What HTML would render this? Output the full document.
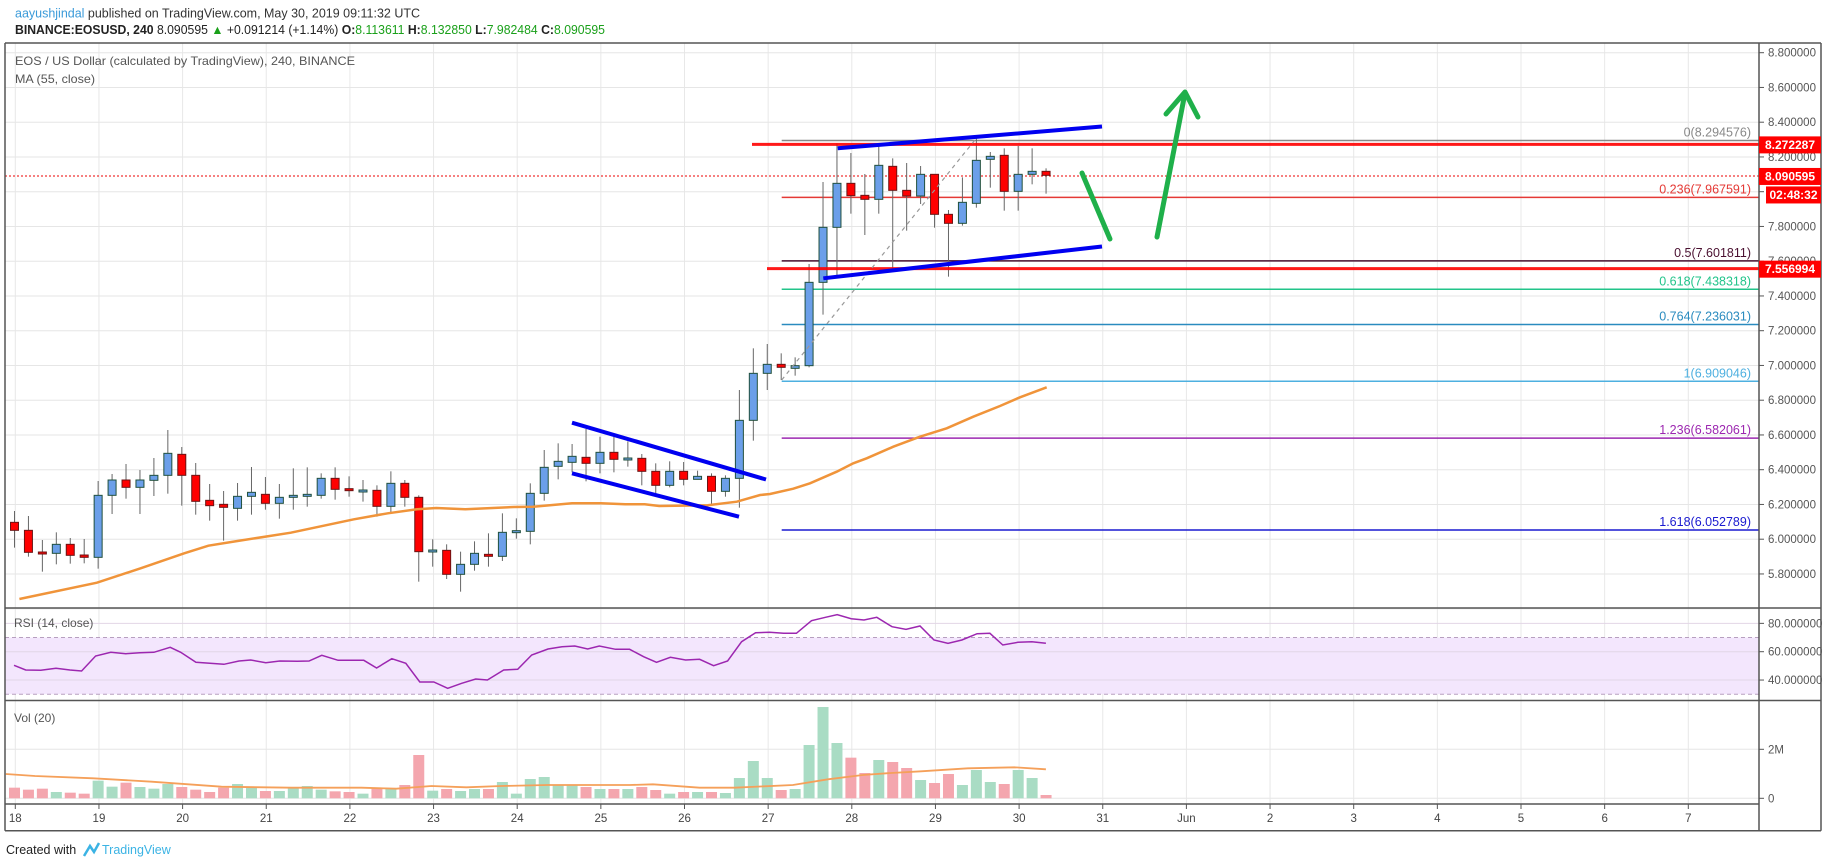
<!DOCTYPE html>
<html><head><meta charset="utf-8">
<style>
html,body{margin:0;padding:0;background:#fff;width:1828px;height:868px;overflow:hidden}
svg{display:block;font-family:"Liberation Sans",sans-serif}
</style></head>
<body>
<svg id="s" width="1828" height="868" viewBox="0 0 1828 868" xmlns="http://www.w3.org/2000/svg">
<rect width="1828" height="868" fill="#fff"/>
<g id="grid"></g>
<g id="fib"></g>
<g id="cand"></g>
<g id="ov"></g>
<g id="axis"></g>
<text x="15" y="17.5" font-size="12.5" fill="#333" textLength="405" lengthAdjust="spacingAndGlyphs"><tspan fill="#3a9ad9">aayushjindal</tspan> published on TradingView.com, May 30, 2019 09:11:32 UTC</text>
<text x="15" y="34" font-size="12.5" fill="#222" textLength="590" lengthAdjust="spacingAndGlyphs"><tspan font-weight="bold">BINANCE:EOSUSD, 240</tspan> 8.090595 <tspan fill="#1aa01a">▲</tspan> +0.091214 (+1.14%) <tspan font-weight="bold">O:</tspan><tspan fill="#1aa01a">8.113611</tspan> <tspan font-weight="bold">H:</tspan><tspan fill="#1aa01a">8.132850</tspan> <tspan font-weight="bold">L:</tspan><tspan fill="#1aa01a">7.982484</tspan> <tspan font-weight="bold">C:</tspan><tspan fill="#1aa01a">8.090595</tspan></text>
<text x="15" y="65" font-size="12" fill="#555" textLength="340" lengthAdjust="spacingAndGlyphs">EOS / US Dollar (calculated by TradingView), 240, BINANCE</text>
<text x="15" y="83" font-size="12" fill="#555" textLength="80" lengthAdjust="spacingAndGlyphs">MA (55, close)</text>
<text x="14" y="627" font-size="12" fill="#555">RSI (14, close)</text>
<text x="14" y="722" font-size="12" fill="#555">Vol (20)</text>
<text x="6" y="854" font-size="12.5" fill="#222">Created with</text>
<path d="M84 856 l6 -10 l4 6 l5 -9" stroke="#3bb3e4" stroke-width="2.5" fill="none"/>
<text x="102" y="854" font-size="12.5" fill="#3bb3e4">TradingView</text>
</svg>
<script>
var NS="http://www.w3.org/2000/svg";
function el(p,t,a,txt){var e=document.createElementNS(NS,t);for(var k in a)e.setAttribute(k,a[k]);if(txt!==undefined)e.textContent=txt;document.getElementById(p).appendChild(e);return e;}
function Y(p){return 52.7+(8.8-p)*173.75;}
var AX=1759,L=5,R=1821;
// grids
for(var k=0;k<21;k++){var x=15.3+83.65*k;el('grid','line',{x1:x,y1:43,x2:x,y2:804,stroke:'#e8e8e8','stroke-width':1});}
for(var p=5.6;p<=8.81;p+=0.2){var y=Y(p);el('grid','line',{x1:L,y1:y,x2:AX,y2:y,stroke:'#e6e6e6'});}
// RSI band
function RY(v){return 651.7-(v-60)*1.417;}
el('grid','rect',{x:L,y:RY(70),width:AX-L,height:RY(30)-RY(70),fill:'#f3e6fd'});
[80,60,40].forEach(function(v){el('grid','line',{x1:L,y1:RY(v),x2:AX,y2:RY(v),stroke:'#e2d6e6'});});
[70,30].forEach(function(v){el('grid','line',{x1:L,y1:RY(v),x2:AX,y2:RY(v),stroke:'#b79fbf','stroke-dasharray':'4,3'});});
el('grid','line',{x1:L,y1:749.3,x2:AX,y2:749.3,stroke:'#e6e6e6'});
el('grid','line',{x1:L,y1:798.3,x2:AX,y2:798.3,stroke:'#e6e6e6'});
// fib
var fibs=[[0,8.294576,'#888'],[0.236,7.967591,'#e53935'],[0.5,7.601811,'#4a1030'],[0.618,7.438318,'#22c48a'],[0.764,7.236031,'#2a8bbf'],[1,6.909046,'#4eb0e0'],[1.236,6.582061,'#9c27b0'],[1.618,6.052789,'#1a1ad0']];
fibs.forEach(function(f){var y=Y(f[1]);el('fib','line',{x1:781.7,y1:y,x2:AX,y2:y,stroke:f[2],'stroke-width':1.5});
el('fib','text',{x:1751,y:y-4,'text-anchor':'end','font-size':12.5,fill:f[2]},f[0]+'('+f[1].toFixed(6)+')');});
// dotted current price
el('fib','line',{x1:L,y1:Y(8.090595),x2:AX,y2:Y(8.090595),stroke:'#e00','stroke-dasharray':'2,2','stroke-width':1});
// candles
var z4=[[427,451,393,503,'r'],[451,517,408,530,'r'],[516,520,480,575,'r'],[493,520,457,553,'b'],[493,526,474,551,'r'],[525,532,477,550,'r'],[346,532,303,566,'b'],[300,346,282,402,'b'],[300,322,252,356,'r'],[300,322,270,402,'b'],[286,301,234,348,'b'],[220,286,150,341,'b'],[223,286,201,377,'r'],[286,364,249,404,'r'],[361,377,312,422,'r'],[373,382,333,482,'r'],[349,385,309,422,'b'],[337,349,261,404,'b'],[343,370,291,389,'r'],[352,370,312,416,'b'],[346,352,265,389,'b'],[343,349,262,380,'b'],[295,346,280,356,'b'],[295,328,262,359,'r'],[326,330,289,350,'r'],[330,332,300,365,'b'],[331,379,316,410,'r'],[310,379,274,397,'b'],[310,352,300,380,'r'],[352,515,346,605,'r'],[510,514,478,560,'b'],[511,583,493,597,'r'],[553,583,515,635,'b'],[520,553,484,572,'b'],[523,529,460,560,'r'],[457,529,400,543,'b'],[452,456,415,476,'b'],[340,454,310,493,'b'],[262,340,210,362,'b'],[244,259,190,298,'b'],[229,247,192,277,'b'],[232,250,147,304,'r'],[217,250,170,280,'b'],[217,238,171,277,'r'],[234,238,184,260,'b'],[235,274,222,316,'r'],[274,316,250,340,'r'],[274,316,244,322,'b'],[274,298,246,316,'r'],[289,298,272,298,'b'],[289,334,280,373,'r'],[295,334,286,350,'b'],[121,295,30,383,'b']];
var z5=[[760,901,685,962,'b'],[733,760,672,810,'b'],[733,742,700,780,'r'],[737,745,712,767,'b'],[487,737,432,742,'b'],[322,487,186,584,'b'],[190,322,70,465,'b'],[190,227,99,281,'r'],[226,238,162,345,'r'],[136,238,78,281,'b'],[139,211,115,445,'r'],[211,228,129,332,'r'],[163,228,138,252,'b'],[163,283,163,323,'r'],[283,310,270,470,'r'],[247,310,172,317,'b'],[121,250,55,263,'b'],[109,118,96,203,'b'],[106,214,85,272,'r'],[163,214,78,272,'b'],[154,163,85,193,'b'],[154,166,145,221,'r']];
var C=[];z4.forEach(function(c){C.push([380+c[0]/3,380+c[1]/3,380+c[2]/3,380+c[3]/3,c[4]]);});
z5.forEach(function(c){C.push([120+c[0]/3,120+c[1]/3,120+c[2]/3,120+c[3]/3,c[4]]);});
C.forEach(function(c,i){var x=14.5+13.94*i;
el('cand','line',{x1:x,y1:c[2],x2:x,y2:c[3],stroke:'#666','stroke-width':1});
var h=Math.max(c[1]-c[0],2);
el('cand','rect',{x:x-4,y:c[0],width:8,height:h,fill:c[4]=='b'?'#6b9fe9':'#ff0000',stroke:c[4]=='b'?'#21503d':'#6b1414','stroke-width':1});});
// MA
var ma=[];[[40,657],[200,608],[290,565],[380,520],[430,497],[490,483],[600,458],[730,418],[800,400],[860,388],[900,384],[960,388],[1060,381],[1100,380],[1180,370],[1240,370],[1290,373],[1330,373],[1360,378],[1460,376],[1520,365],[1568,345]].forEach(function(p){ma.push((p[0]/2.063).toFixed(1)+','+(380+p[1]/3).toFixed(1));});
[[30,582],[100,566],[150,550],[230,515],[280,490],[320,475],[400,440],[480,410],[560,385],[640,350],[720,318],[780,292],[860,262]].forEach(function(p){ma.push((760+p[0]/3).toFixed(1)+','+(300+p[1]/3).toFixed(1));});
el('cand','polyline',{points:ma.join(' '),fill:'none',stroke:'#f0943a','stroke-width':2.5});
// overlays
el('ov','line',{x1:752,y1:Y(8.272287),x2:AX,y2:Y(8.272287),stroke:'#ff0000','stroke-width':3,'stroke-opacity':0.9});
el('ov','line',{x1:767,y1:Y(7.556994),x2:AX,y2:Y(7.556994),stroke:'#ff0000','stroke-width':3,'stroke-opacity':0.9});
el('ov','line',{x1:781.7,y1:380,x2:976.3,y2:138.3,stroke:'#999','stroke-width':1.2,'stroke-dasharray':'4,4'});
[[837.7,148.3,1102,126.5],[823.3,278.3,1102,246.5],[572,422.7,766,479.5],[572,473.3,739,516.7]].forEach(function(l){el('ov','line',{x1:l[0],y1:l[1],x2:l[2],y2:l[3],stroke:'#0000f0','stroke-width':4});});
el('ov','line',{x1:1082,y1:173,x2:1110,y2:239,stroke:'#1fb04a','stroke-width':5,'stroke-linecap':'round'});
el('ov','line',{x1:1157,y1:237,x2:1185,y2:93,stroke:'#1fb04a','stroke-width':5,'stroke-linecap':'round'});
el('ov','polyline',{points:'1166,114 1185,92 1198,117',fill:'none',stroke:'#1fb04a','stroke-width':5,'stroke-linecap':'round','stroke-linejoin':'round'});
// RSI line
var rs=[[12,196],[22,210],[35,211],[48,205],[60,210],[70,213],[82,168],[95,157],[108,161],[120,158],[132,157],[146,142],[155,157],[168,187],[180,190],[192,193],[205,183],[215,180],[228,188],[240,183],[255,184],[265,183],[276,166],[290,181],[300,181],[312,181],[323,204],[336,176],[348,190],[360,246],[372,246],[384,265],[396,250],[408,237],[418,240],[432,210],[444,208],[456,165],[470,147],[482,140],[493,138],[504,147],[514,138],[528,148],[540,148],[552,170],[563,187],[575,172],[588,180],[600,178],[612,197],[624,183],[636,125],[648,98],[660,97],[672,100],[683,100],[696,62],[708,52],[718,44],[730,56],[741,60],[752,52],[765,80],[777,88],[789,78],[801,120],[813,130],[825,120],[838,101],[849,100],[860,135],[873,127],[885,125],[897,130]];
el('ov','polyline',{points:rs.map(function(p){return (p[0]*1.166).toFixed(1)+','+(600+p[1]/3).toFixed(1);}).join(' '),fill:'none',stroke:'#9c27b0','stroke-width':1.5});
// volume
var vt=[563,569,566,576,578,581,542,560,548,561,566,552,561,569,576,563,552,561,573,573,563,558,569,574,576,581,566,566,555,465,572,567,573,567,567,546,581,537,531,555,555,561,567,567,567,561,570,581,576,576,576,579,534,483,534,570,567,435,321,429,473,519,480,486,504,540,549,522,555,510,546,552,510,534,585];
C.forEach(function(c,i){var x=14.5+13.94*i,t=600+vt[i]/3;el('cand','rect',{x:x-5.5,y:t,width:11,height:798.3-t,fill:c[4]=='b'?'#a9dcc4':'#f4a6ae'});});
var vm=[[5,522],[30,528],[80,535],[130,545],[190,560],[250,563],[310,563],[340,566],[370,558],[400,562],[430,558],[470,555],[540,555],[560,553],[600,563],[630,563],[680,555],[710,538],[740,525],[760,520],[790,514],[830,505],[870,502],[897,508]];
el('ov','polyline',{points:vm.map(function(p){return (p[0]*1.166).toFixed(1)+','+(600+p[1]/3).toFixed(1);}).join(' '),fill:'none',stroke:'#f5a05a','stroke-width':1.8});
// frames
[[L,43,R,43],[L,608,R,608],[L,700.5,R,700.5],[L,804,AX,804],[L,830.7,R,830.7],[L,43,L,830.7],[R,43,R,830.7],[AX,43,AX,830.7]].forEach(function(l){el('axis','line',{x1:l[0],y1:l[1],x2:l[2],y2:l[3],stroke:'#555','stroke-width':1.5});});
// price labels
for(var p=5.6;p<=8.81;p+=0.2){var y=Y(p);if(y>608)continue;el('axis','line',{x1:AX,y1:y,x2:AX+5,y2:y,stroke:'#555'});el('axis','text',{x:1768,y:y+4,'font-size':11.5,fill:'#555'},p.toFixed(6));}
[[80,'80.000000'],[60,'60.000000'],[40,'40.000000']].forEach(function(r){var y=RY(r[0]);el('axis','line',{x1:AX,y1:y,x2:AX+5,y2:y,stroke:'#555'});el('axis','text',{x:1768,y:y+4,'font-size':11.5,fill:'#555'},r[1]);});
[[749.3,'2M'],[798.3,'0']].forEach(function(r){el('axis','line',{x1:AX,y1:r[0],x2:AX+5,y2:r[0],stroke:'#555'});el('axis','text',{x:1768,y:r[0]+4,'font-size':11.5,fill:'#555'},r[1]);});
// red boxes
function box(y,t,x0){el('axis','rect',{x:x0,y:y-8,width:R-x0,height:17,fill:'#ff0000'});el('axis','text',{x:x0+(R-x0)/2,y:y+4.5,'text-anchor':'middle','font-size':12,'font-weight':'bold',fill:'#fff'},t);}
box(Y(8.272287),'8.272287',AX);box(Y(8.090595),'8.090595',AX);box(Y(8.090595)+18.5,'02:48:32',1766);box(Y(7.556994),'7.556994',AX);
// dates
var d=['18','19','20','21','22','23','24','25','26','27','28','29','30','31','Jun','2','3','4','5','6','7'];
d.forEach(function(t,k){var x=15.3+83.65*k;el('axis','line',{x1:x,y1:804,x2:x,y2:809,stroke:'#555'});el('axis','text',{x:x,y:822,'text-anchor':'middle','font-size':11.5,fill:'#444'},t);});
</script>
</body></html>
